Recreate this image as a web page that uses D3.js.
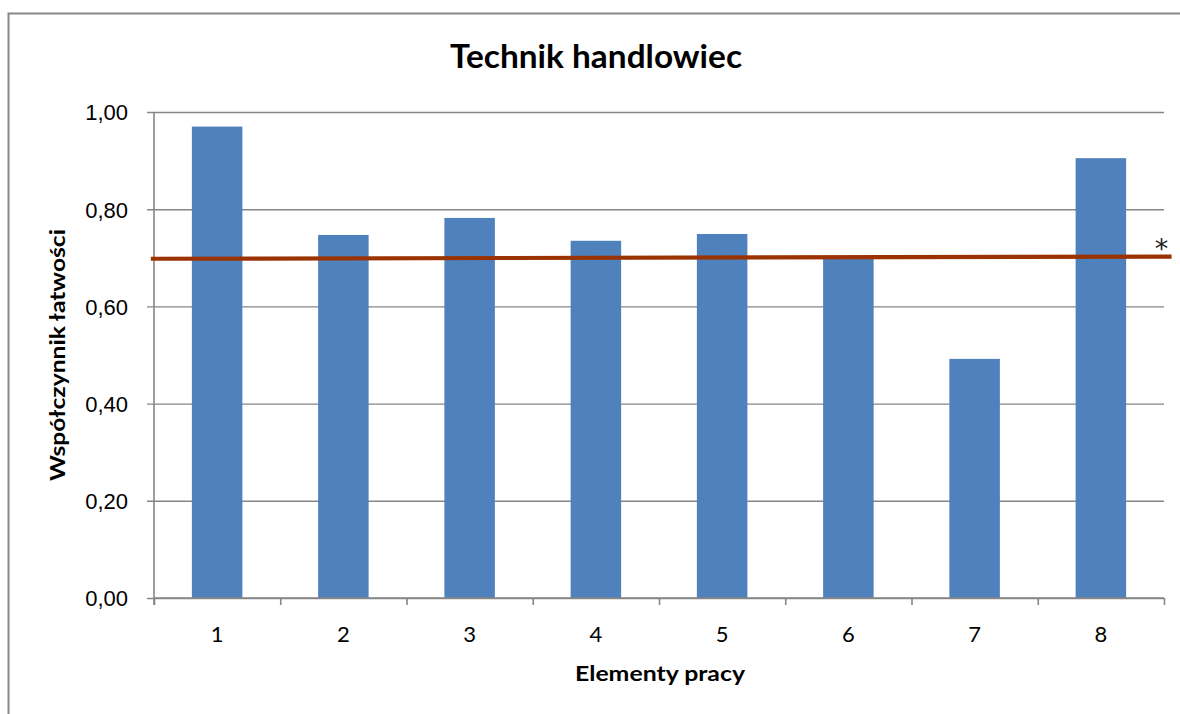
<!DOCTYPE html>
<html>
<head>
<meta charset="utf-8">
<script src="https://cdn.jsdelivr.net/npm/d3@7"></script>
<style>
  html, body { margin: 0; padding: 0; background: #fff; }
  svg { display: block; font-family: Lato, "Open Sans", sans-serif; }
</style>
</head>
<body>
<svg id="chart" width="1180" height="714"></svg>
<script>
const categories = ["1", "2", "3", "4", "5", "6", "7", "8"];
const values = [0.97, 0.747, 0.782, 0.735, 0.749, 0.70, 0.492, 0.905];
const yTicks = [0, 0.2, 0.4, 0.6, 0.8, 1.0];
const refLine = [[-0.025, 0.698], [8.06, 0.7025]];
const refMark = "*";
const title = "Technik handlowiec";
const xTitle = "Elementy pracy";
const yTitle = "Współczynnik łatwości";

const svg = d3.select("#chart");
const M = { left: 154, right: 1164, top: 112, bottom: 598 };

// outer chart border
svg.append("rect")
  .attr("x", 8.5).attr("y", 13.5)
  .attr("width", 1200).attr("height", 740)
  .attr("fill", "none").attr("stroke", "#878787").attr("stroke-width", 2);

const x = d3.scaleBand().domain(categories).range([M.left, M.right])
  .paddingInner(0.6).paddingOuter(0.3);
const xl = d3.scaleLinear().domain([0, categories.length]).range([M.left, M.right]);
const y = d3.scaleLinear().domain([0, 1]).range([M.bottom, M.top]);

const fmt = d => d3.format(".2f")(d).replace(".", ",");

// gridlines + y axis
const yAxis = d3.axisLeft(y).tickValues(yTicks).tickFormat(fmt)
  .tickSize(-(M.right - M.left));
const gy = svg.append("g").attr("transform", `translate(${M.left},0)`).call(yAxis);
gy.select(".domain").remove();
gy.selectAll(".tick line").attr("stroke", "#868686").attr("stroke-width", 1.4)
  .attr("x1", -7);
gy.selectAll(".tick text").attr("font-size", 22).attr("fill", "#000")
  .attr("x", -26).attr("dy", "0.36em");

// bars
svg.append("g").selectAll("rect").data(values).join("rect")
  .attr("x", (d, i) => x(categories[i]))
  .attr("y", d => y(d))
  .attr("width", x.bandwidth())
  .attr("height", d => y(0) - y(d))
  .attr("fill", "#4F81BD");

// x axis
const xAxis = d3.axisBottom(xl).tickValues(d3.range(categories.length + 1))
  .tickFormat("").tickSize(7);
const gx = svg.append("g").attr("transform", `translate(0,${M.bottom})`).call(xAxis);
gx.select(".domain").attr("stroke", "#868686").attr("stroke-width", 1.6)
  .attr("d", `M${M.left},0H${M.right}`);
gx.selectAll(".tick line").attr("stroke", "#868686").attr("stroke-width", 1.6);
svg.append("g").selectAll("text").data(categories).join("text")
  .attr("x", d => x(d) + x.bandwidth() / 2)
  .attr("y", M.bottom + 44)
  .attr("text-anchor", "middle").attr("font-size", 22).attr("fill", "#000")
  .text(d => d);

// y axis line
svg.append("line").attr("x1", M.left).attr("x2", M.left)
  .attr("y1", M.top).attr("y2", M.bottom + 7)
  .attr("stroke", "#868686").attr("stroke-width", 1.6);

// reference line
svg.append("path")
  .datum(refLine)
  .attr("d", d3.line().x(d => xl(d[0])).y(d => y(d[1])))
  .attr("stroke", "#9A3300").attr("stroke-width", 4.2).attr("fill", "none");
svg.append("text")
  .attr("x", xl(refLine[1][0]) - 10).attr("y", y(refLine[1][1]) + 1)
  .attr("text-anchor", "middle").attr("font-size", 27).attr("fill", "#222")
  .attr("font-family", "DejaVu Sans")
  .text(refMark);

// titles
svg.append("text").attr("x", 596).attr("y", 68)
  .attr("text-anchor", "middle").attr("font-size", 32).attr("font-weight", "bold")
  .attr("textLength", 292).attr("lengthAdjust", "spacingAndGlyphs")
  .text(title);
svg.append("text").attr("x", 660).attr("y", 681)
  .attr("text-anchor", "middle").attr("font-size", 21).attr("font-weight", "bold")
  .attr("textLength", 170).attr("lengthAdjust", "spacingAndGlyphs")
  .text(xTitle);
svg.append("text")
  .attr("transform", `translate(65,${(M.top + M.bottom) / 2}) rotate(-90)`)
  .attr("text-anchor", "middle").attr("font-size", 21).attr("font-weight", "bold")
  .attr("textLength", 252).attr("lengthAdjust", "spacingAndGlyphs")
  .text(yTitle);
</script>
</body>
</html>
